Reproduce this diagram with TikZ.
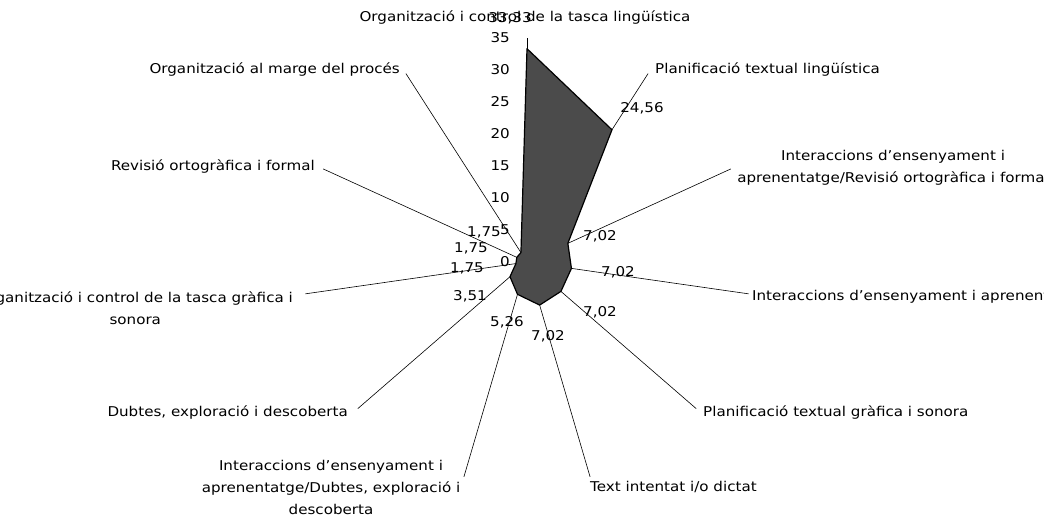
\documentclass[tikz,border=0pt]{standalone}
\usepackage{fontspec}
\setmainfont{DejaVu Sans}[FakeStretch=1.12]
\definecolor{radargray}{RGB}{75,75,75}

\begin{document}
\begin{tikzpicture}[x=1pt, y=1pt, font=\fontsize{13.5}{22}\selectfont, inner sep=0pt]
    \useasboundingbox (-527,-254) rectangle (517,262);
    \clip (-527,-254) rectangle (517,262);

    % centre and axis ends (35 = 224)
    \coordinate (o) at (0,0);
    \coordinate (a0) at (90:224);
    \coordinate (a1) at (57.273:224);
    \coordinate (a2) at (24.545:224);
    \coordinate (a3) at (-8.182:224);
    \coordinate (a4) at (-40.909:224);
    \coordinate (a5) at (-73.636:224);
    \coordinate (a6) at (-106.364:224);
    \coordinate (a7) at (-139.091:224);
    \coordinate (a8) at (-171.818:224);
    \coordinate (a9) at (155.455:224);
    \coordinate (a10) at (122.727:224);

    \draw[line width=0.6pt] (o) -- (a0);
    \draw[line width=0.6pt] (o) -- (a1);
    \draw[line width=0.6pt] (o) -- (a2);
    \draw[line width=0.6pt] (o) -- (a3);
    \draw[line width=0.6pt] (o) -- (a4);
    \draw[line width=0.6pt] (o) -- (a5);
    \draw[line width=0.6pt] (o) -- (a6);
    \draw[line width=0.6pt] (o) -- (a7);
    \draw[line width=0.6pt] (o) -- (a8);
    \draw[line width=0.6pt] (o) -- (a9);
    \draw[line width=0.6pt] (o) -- (a10);

    % data polygon
    \coordinate (p0) at (90:213.3);
    \coordinate (p1) at (57.273:157.2);
    \coordinate (p2) at (24.545:44.9);
    \coordinate (p3) at (-8.182:44.9);
    \coordinate (p4) at (-40.909:44.9);
    \coordinate (p5) at (-73.636:44.9);
    \coordinate (p6) at (-106.364:33.7);
    \coordinate (p7) at (-139.091:22.5);
    \coordinate (p8) at (-171.818:11.2);
    \coordinate (p9) at (155.455:11.2);
    \coordinate (p10) at (122.727:11.2);
    \draw[fill=radargray, draw=black, line width=1.2pt, line join=round]
        (p0) -- (p1) -- (p2) -- (p3) -- (p4) -- (p5) -- (p6) -- (p7) -- (p8) -- (p9) -- (p10) -- cycle;

    % scale on the vertical axis
    \node[anchor=east] (t0) at (-17,0) {0};
    \node[anchor=east] (t5) at (-17,32) {5};
    \node[anchor=east] (t10) at (-17,64) {10};
    \node[anchor=east] (t15) at (-17,96) {15};
    \node[anchor=east] (t20) at (-17,128) {20};
    \node[anchor=east] (t25) at (-17,160) {25};
    \node[anchor=east] (t30) at (-17,192) {30};
    \node[anchor=east] (t35) at (-17,224) {35};

    % category labels
    \node (c0) at (-2,244) {Organització i control de la tasca lingüística};
    \node[anchor=west] (c1) at (128,192) {Planificació textual lingüística};
    \node[align=center] (c2) at (366,94) {Interaccions d’ensenyament i\\aprenentatge/Revisió ortogràfica i formal};
    \node[anchor=west] (c3) at (225,-35) {Interaccions d’ensenyament i aprenentatge};
    \node[anchor=west] (c4) at (176,-151) {Planificació textual gràfica i sonora};
    \node[anchor=west] (c5) at (63,-225) {Text intentat i/o dictat};
    \node[align=center] (c6) at (-196,-225) {Interaccions d’ensenyament i\\aprenentatge/Dubtes, exploració i\\descoberta};
    \node[anchor=east] (c7) at (-179,-151) {Dubtes, exploració i descoberta};
    \node[align=center, anchor=east] (c8) at (-234,-46) {Organització i control de la tasca gràfica i\\sonora};
    \node[anchor=east] (c9) at (-212,95) {Revisió ortogràfica i formal};
    \node[anchor=east] (c10) at (-127,192) {Organització al marge del procés};

    % data labels
    \node (v0) at (-17,244) {33,33};
    \node (v1) at (115,154) {24,56};
    \node (v2) at (73,26) {7,02};
    \node (v3) at (91,-10) {7,02};
    \node (v4) at (73,-50) {7,02};
    \node (v5) at (21,-74) {7,02};
    \node (v6) at (-20,-60) {5,26};
    \node (v7) at (-57,-34) {3,51};
    \node (v8) at (-60,-6) {1,75};
    \node (v9) at (-56,14) {1,75};
    \node (v10) at (-43,30) {1,75};
\end{tikzpicture}
\end{document}
